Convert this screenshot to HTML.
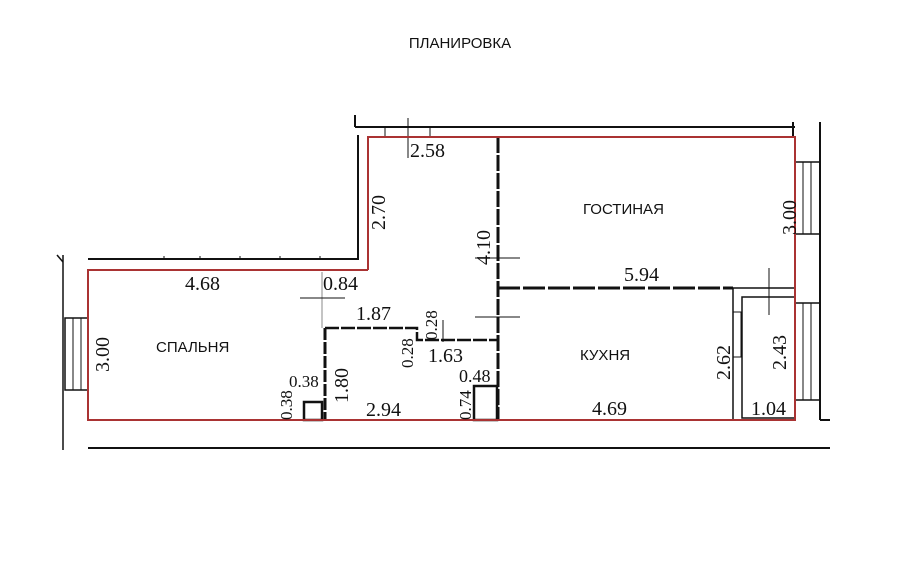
<!DOCTYPE html>
<html><head><meta charset="utf-8"><style>
html,body{margin:0;padding:0;background:#fff;width:900px;height:564px;overflow:hidden}
svg{display:block}
.s{font-family:"Liberation Sans",sans-serif;font-size:15px;fill:#111}
.d{font-family:"Liberation Serif",serif;font-size:20px;fill:#111}
</style></head><body>
<svg width="900" height="564" viewBox="0 0 900 564">
<text x="460" y="48" class="s" text-anchor="middle">ПЛАНИРОВКА</text>
<g stroke="#111" fill="none" stroke-width="2">
<line x1="355" y1="127" x2="795" y2="127"/>
<line x1="355" y1="115" x2="355" y2="127"/>
<line x1="358" y1="135" x2="358" y2="260"/>
<line x1="88" y1="259" x2="358" y2="259"/>
<line x1="88" y1="448" x2="830" y2="448"/>
<line x1="820" y1="122" x2="820" y2="420"/>
<line x1="820" y1="420" x2="830" y2="420"/>
<line x1="793" y1="122" x2="793" y2="137"/>
<line x1="63" y1="255" x2="63" y2="450" stroke-width="1.5"/>
<line x1="57" y1="255" x2="63" y2="262" stroke-width="1.5"/>
<rect x="65" y="318" width="23" height="72" stroke-width="1.5"/>
<line x1="73" y1="318" x2="73" y2="390" stroke-width="1"/>
<line x1="81" y1="318" x2="81" y2="390" stroke-width="1"/>
<rect x="795" y="162" width="25" height="72" stroke-width="1.5"/>
<line x1="803" y1="162" x2="803" y2="234" stroke-width="1"/>
<line x1="811" y1="162" x2="811" y2="234" stroke-width="1"/>
<rect x="795" y="303" width="25" height="97" stroke-width="1.5"/>
<line x1="803" y1="303" x2="803" y2="400" stroke-width="1"/>
<line x1="811" y1="303" x2="811" y2="400" stroke-width="1"/>
<line x1="498" y1="137" x2="498" y2="420" stroke-width="3" stroke-dasharray="16 2"/>
<line x1="498" y1="288" x2="733" y2="288" stroke-width="3" stroke-dasharray="22 3"/>
<line x1="733" y1="288" x2="795" y2="288" stroke-width="1.5"/>
<line x1="733" y1="288" x2="733" y2="420" stroke-width="1.5"/>
<rect x="742" y="297" width="53" height="121" stroke-width="1.5"/>
<rect x="733" y="312" width="8" height="45" stroke-width="1"/>
<line x1="325" y1="328" x2="325" y2="420" stroke-width="3" stroke-dasharray="12 2"/>
<polyline points="325,328 417,328 417,340 498,340" stroke-width="2.5" stroke-dasharray="14 2"/>
<rect x="304" y="402" width="18" height="18" stroke-width="2.5"/>
<rect x="474" y="386" width="23" height="34" stroke-width="2.5"/>
<line x1="322" y1="272" x2="322" y2="328" stroke-width="1" stroke="#888"/>
<line x1="408" y1="118" x2="408" y2="158" stroke-width="1"/>
<line x1="385" y1="127" x2="385" y2="137" stroke-width="1"/>
<line x1="430" y1="127" x2="430" y2="137" stroke-width="1"/>
<line x1="300" y1="298" x2="345" y2="298" stroke-width="1"/>
<line x1="475" y1="258" x2="520" y2="258" stroke-width="1"/>
<line x1="475" y1="317" x2="520" y2="317" stroke-width="1"/>
<line x1="443" y1="320" x2="443" y2="342" stroke-width="1"/>
<line x1="769" y1="268" x2="769" y2="315" stroke-width="1"/>
<g stroke-width="1"><line x1="164" y1="256" x2="164" y2="259"/><line x1="200" y1="256" x2="200" y2="259"/><line x1="240" y1="256" x2="240" y2="259"/><line x1="280" y1="256" x2="280" y2="259"/><line x1="320" y1="256" x2="320" y2="259"/></g>
</g>
<g stroke="#a33" fill="none" stroke-width="2">
<polyline points="368,270 368,137 795,137 795,420 88,420 88,270 368,270"/>
</g>
<text x="156" y="352" class="s">СПАЛЬНЯ</text>
<text x="583" y="214" class="s">ГОСТИНАЯ</text>
<text x="580" y="360" class="s">КУХНЯ</text>
<g class="d">
<text x="410" y="157">2.58</text>
<text x="185" y="290">4.68</text>
<text x="323" y="290">0.84</text>
<text x="356" y="320">1.87</text>
<text x="428" y="362">1.63</text>
<text x="624" y="281">5.94</text>
<text x="366" y="416">2.94</text>
<text x="592" y="415">4.69</text>
<text x="751" y="415">1.04</text>
<text x="289" y="387" style="font-size:17px">0.38</text>
<text x="459" y="382" style="font-size:18px">0.48</text>
<text transform="translate(385,230) rotate(-90)">2.70</text>
<text transform="translate(490,265) rotate(-90)">4.10</text>
<text transform="translate(109,372) rotate(-90)">3.00</text>
<text transform="translate(796,235) rotate(-90)">3.00</text>
<text transform="translate(348,403) rotate(-90)">1.80</text>
<text transform="translate(730,380) rotate(-90)">2.62</text>
<text transform="translate(786,370) rotate(-90)">2.43</text>
<text transform="translate(437,340) rotate(-90)" style="font-size:17px">0.28</text>
<text transform="translate(413,368) rotate(-90)" style="font-size:17px">0.28</text>
<text transform="translate(292,420) rotate(-90)" style="font-size:17px">0.38</text>
<text transform="translate(471,420) rotate(-90)" style="font-size:17px">0.74</text>
</g>
</svg>
</body></html>
